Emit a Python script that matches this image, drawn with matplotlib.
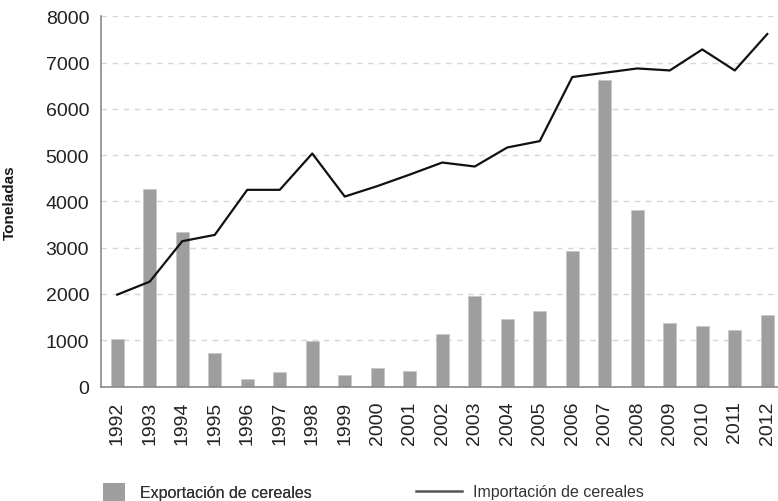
import matplotlib
matplotlib.use("Agg")
import matplotlib.pyplot as plt
from matplotlib.patches import Patch
from matplotlib.lines import Line2D

years = [str(y) for y in range(1992, 2013)]
exportacion = [1034, 4264, 3341, 718, 162, 307, 990, 256, 393, 342,
               1135, 1964, 1460, 1640, 2924, 6622, 3810, 1367, 1315, 1222, 1546]
importacion = [1985, 2266, 3140, 3276, 4250, 4250, 5035, 4105, 4330, 4580,
               4840, 4754, 5165, 5303, 6687, 6780, 6873, 6830, 7284, 6830, 7617]
yticks = [0, 1000, 2000, 3000, 4000, 5000, 6000, 7000, 8000]

plt.rcParams['font.family'] = ['Liberation Sans', 'DejaVu Sans']

W, H = 778, 502
fig = plt.figure(figsize=(W / 100, H / 100), dpi=100)
ax = fig.add_axes([101 / W, 1 - 387.5 / H, (W - 101) / W, (387.5 - 17.3) / H])

x = list(range(len(years)))
bar_color = '#9e9e9e'
ax.bar(x, exportacion, width=0.39, color=bar_color, edgecolor='#c8c8c8', linewidth=0.6, zorder=2)
ax.plot(x, importacion, color='#111111', linewidth=1.6, zorder=3)

ax.set_xlim(-0.5, 20.33)
ax.set_ylim(0, 8000)
ax.set_yticks(yticks)
ax.set_xticks(x)
ax.set_xticklabels(years, rotation=90)

ax.yaxis.grid(True, linestyle=(0, (4, 4)), color='#d6d6d6', linewidth=1.0, zorder=0)
ax.set_axisbelow(True)

for s in ['top', 'right']:
    ax.spines[s].set_visible(False)
for s in ['left', 'bottom']:
    ax.spines[s].set_color('#8a8a8a')
    ax.spines[s].set_linewidth(1.2)

ax.tick_params(axis='y', length=0, pad=8.5, labelsize=14, labelcolor='#222222')
ax.tick_params(axis='x', length=0, pad=10, labelsize=14, labelcolor='#222222')

ax.set_ylabel('Toneladas', fontsize=11, fontweight='bold', color='#1a1a1a')
ax.yaxis.set_label_coords(-0.124, 0.5)

leg_fs = 11.5
h1 = [Patch(facecolor=bar_color, edgecolor='none')]
h2 = [Line2D([0], [0], color='#555555', linewidth=1.8)]
l1 = fig.legend(h1, ['Exportación de cereales'], loc='center left',
                bbox_to_anchor=(103 / W, 1 - 493 / H), frameon=False, fontsize=leg_fs,
                handlelength=1.37, handleheight=1.37, handletextpad=0.94,
                borderpad=0, borderaxespad=0, labelcolor='#333333')
l2 = fig.legend(h2, ['Importación de cereales'], loc='center left',
                bbox_to_anchor=(416 / W, 1 - 493 / H), frameon=False, fontsize=leg_fs,
                handlelength=2.9, handletextpad=0.69,
                borderpad=0, borderaxespad=0, labelcolor='#333333')
fig.add_artist(l1)

fig.savefig('out.png', dpi=100)
